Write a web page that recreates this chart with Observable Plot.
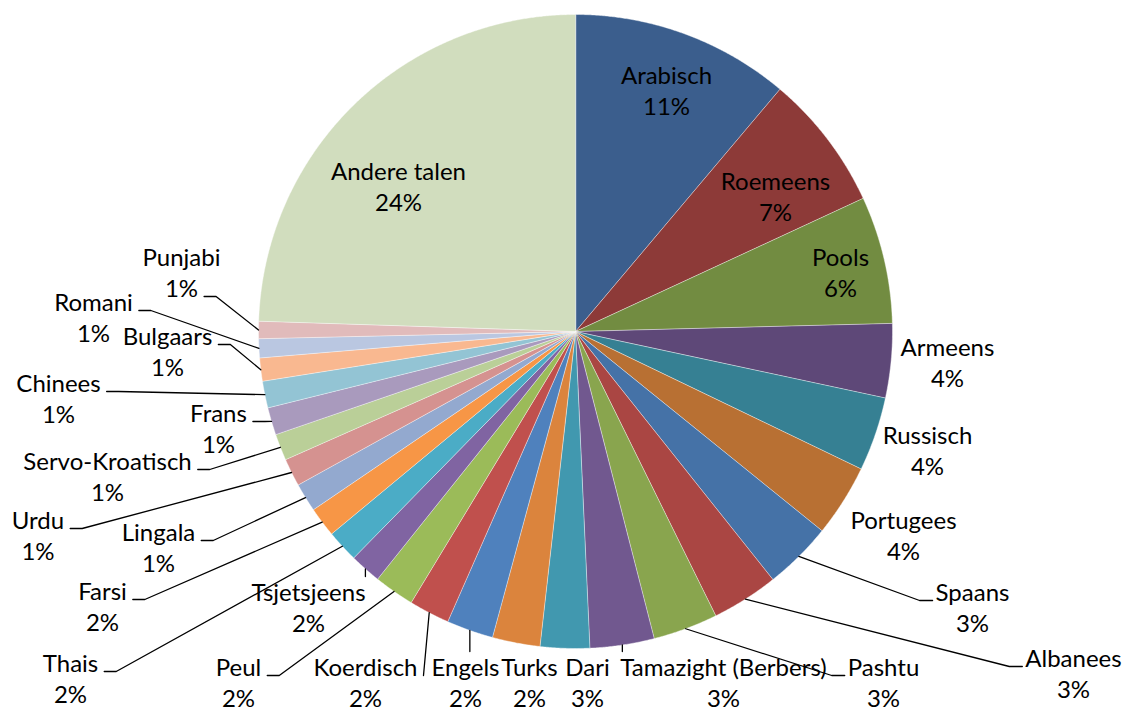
<!DOCTYPE html>
<html>
<head>
<meta charset="utf-8">
<script src="https://cdn.jsdelivr.net/npm/d3@7"></script>
<script src="https://cdn.jsdelivr.net/npm/@observablehq/plot@0.6"></script>
<style>
  html, body { margin: 0; padding: 0; background: #fff; }
  #chart svg { display: block; }
</style>
</head>
<body>
<div id="chart"></div>
<script>
// ---- data ----
const languages = ["Arabisch","Roemeens","Pools","Armeens","Russisch","Portugees","Spaans","Albanees","Pashtu","Tamazight (Berbers)","Dari","Turks","Engels","Koerdisch","Peul","Tsjetsjeens","Thais","Farsi","Lingala","Urdu","Servo-Kroatisch","Frans","Chinees","Bulgaars","Romani","Punjabi","Andere talen"];
const shares = [11.15,6.94,6.49,3.77,3.77,3.68,3.48,3.40,3.30,3.27,2.51,2.43,2.38,2.07,2.06,1.60,1.64,1.52,1.46,1.42,1.35,1.40,1.36,1.18,0.97,0.88,24.47];
const colors = ["#3B5E8D","#8D3A38","#728C41","#5E4878","#368093","#B87033","#4572A7","#AA4643","#89A54E","#71588F","#4198AF","#DB843D","#4F81BD","#C0504D","#9BBB59","#8064A2","#4BACC6","#F79646","#93A9CF","#D59290","#BACF98","#A99ABD","#93C4D4","#F9B890","#BAC7E1","#E1BBBB","#D1DDBE"];

// ---- label layout (name-line centre in page pixels, leader kind) ----
const labelX = [666,775,840,947,927,903,972,1073,883,723,587,529,465,365,238,308,70,102,158,37.5,107,218,58,167,93,181,398];
const labelY = [76,182,258,348,436,521,593,659,668,668,668,668,668,668,668,593,664,592,533,521,462,414,384,337,303,258,172];
const leaderKind = ["none","none","none","none","none","none","right","right","right","below","none","none","below","direct","left","below","left","left","left","left","left","left","left","left","left","leftpct","none"];

// ---- geometry ----
const W = 1128, H = 713, CX = 575, CY = 331, R = 317;
const FS = 24, FONT = "Lato", PCT_DY = 31;
const ux = X => (X - CX) / R;   // page px -> data units
const uy = Y => (CY - Y) / R;

const total = d3.sum(shares);
const arcs = d3.pie().sort(null).value(d => d)(shares);

const ctx = document.createElement("canvas").getContext("2d");
ctx.font = `${FS}px ${FONT}`;
const tw = s => ctx.measureText(s).width;

const slicePts = [];
arcs.forEach((a, i) => {
  const name = languages[i];
  slicePts.push({name, x: 0, y: 0});
  const n = Math.max(2, Math.ceil((a.endAngle - a.startAngle) / (Math.PI / 720)));
  for (let k = 0; k <= n; k++) {
    const t = a.startAngle + (a.endAngle - a.startAngle) * k / n;
    slicePts.push({name, x: Math.sin(t), y: Math.cos(t)});
  }
});

const labels = languages.map((name, i) => ({
  name,
  pct: Math.round(shares[i] / total * 100) + "%",
  x: ux(labelX[i]),
  y: uy(labelY[i]),
  y2: uy(labelY[i] + PCT_DY)
}));

const leaderPts = [];
arcs.forEach((a, i) => {
  const kind = leaderKind[i];
  if (kind === "none") return;
  const name = languages[i];
  const mid = (a.startAngle + a.endAngle) / 2;
  const sx = CX + R * Math.sin(mid), sy = CY - R * Math.cos(mid);
  const lx = labelX[i], ly = labelY[i];
  const pts = [[sx, sy]];
  if (kind === "left" || kind === "leftpct") {
    const txt = kind === "left" ? name : labels[i].pct;
    const yy = (kind === "left" ? ly : ly + PCT_DY) + 7;
    const ex = lx + tw(txt) / 2 + 6;
    pts.push([ex + 12, yy], [ex, yy]);
  } else if (kind === "direct") {
    pts.push([lx + tw(name) / 2 + 6, ly + 7]);
  } else if (kind === "right") {
    const ex = lx - tw(name) / 2 - 3;
    pts.push([ex - 13, ly + 7], [ex, ly + 7]);
  } else if (kind === "below") {
    pts.push([sx, ly - 17]);
  }
  pts.forEach(([X, Y]) => leaderPts.push({name, x: ux(X), y: uy(Y)}));
});

const chart = Plot.plot({
  width: W,
  height: H,
  margin: 0,
  x: {domain: [ux(0), ux(W)], axis: null},
  y: {domain: [uy(H), uy(0)], axis: null},
  color: {domain: languages, range: colors},
  style: {background: "#fff", fontFamily: FONT},
  marks: [
    Plot.line(slicePts, {x: "x", y: "y", z: "name", fill: "name", stroke: "#ffffff", strokeWidth: 0.6, strokeOpacity: 0.7, curve: "linear-closed"}),
    Plot.line(leaderPts, {x: "x", y: "y", z: "name", stroke: "#000", strokeWidth: 1.3}),
    Plot.text(labels, {x: "x", y: "y", text: "name", fontSize: FS, fontFamily: FONT, fill: "#000", textAnchor: "middle"}),
    Plot.text(labels, {x: "x", y: "y2", text: "pct", fontSize: FS, fontFamily: FONT, fill: "#000", textAnchor: "middle"})
  ]
});
document.getElementById("chart").appendChild(chart);
</script>
</body>
</html>
